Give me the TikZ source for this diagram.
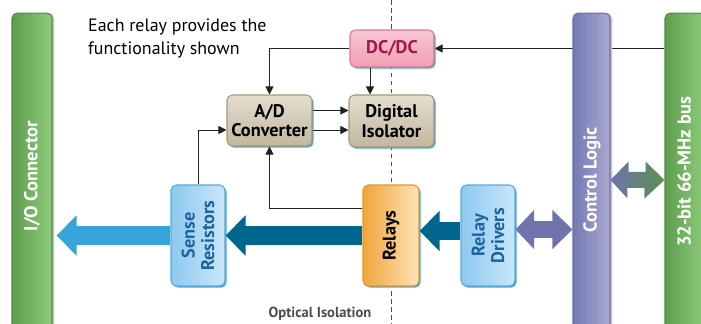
\documentclass[tikz,border=0pt]{standalone}
\usepackage{fontspec}
\setmainfont{PT Sans}
\usetikzlibrary{arrows.meta,shadows,backgrounds}

\definecolor{iogreenL}{HTML}{5E9D4F}
\definecolor{iogreenR}{HTML}{8FCC7C}
\definecolor{iogreenE}{HTML}{4E8A42}
\definecolor{ctlL}{HTML}{7479B4}
\definecolor{ctlR}{HTML}{A8AAD0}
\definecolor{ctlE}{HTML}{6A6FA8}
\definecolor{tantop}{HTML}{E4DECF}
\definecolor{tanbot}{HTML}{C2B79E}
\definecolor{tanedge}{HTML}{A69878}
\definecolor{pinktop}{HTML}{F8C6D2}
\definecolor{pinkbot}{HTML}{EF9EB2}
\definecolor{pinkedge}{HTML}{D77B96}
\definecolor{dcred}{HTML}{A3164B}
\definecolor{skyL}{HTML}{8DC8EF}
\definecolor{skyR}{HTML}{CAE7F9}
\definecolor{skyedge}{HTML}{5AA8DC}
\definecolor{skytext}{HTML}{1D62A0}
\definecolor{orangeL}{HTML}{F0A53A}
\definecolor{orangeR}{HTML}{FDE3B8}
\definecolor{orangeedge}{HTML}{E5962C}
\definecolor{shadowblue}{HTML}{4FA6D8}
\definecolor{arrlight}{HTML}{36A4DA}
\definecolor{arrteal}{HTML}{00668E}
\definecolor{arrpurple}{HTML}{6F74AE}
\definecolor{arrgreen}{HTML}{5E8F50}
\definecolor{linegray}{HTML}{222222}
\definecolor{optgray}{HTML}{4D4D4D}

\begin{document}
\begin{tikzpicture}[x=0.02cm, y=-0.02cm,
    conn/.style={draw=linegray, line width=0.55pt,
      -{Triangle[length=4.6pt,width=4.6pt]}},
    fat/.style={line width=0.38cm,
      -{Triangle[length=0.4cm,width=0.78cm]}},
    blueshadow/.style={drop shadow={fill=shadowblue, opacity=1,
      shadow xshift=0.9pt, shadow yshift=-0.9pt}},
    barshadow/.style={drop shadow={fill=black!22, opacity=1,
      shadow xshift=1.3pt, shadow yshift=0pt}},
    bar/.style={rectangle, rounded corners=3pt, line width=0.6pt,
      minimum height=6.6cm, barshadow},
    box/.style={rectangle, rounded corners=3pt, line width=0.6pt, blueshadow},
    boxtext/.style={font=\fontsize{10.4}{11.2}\selectfont\bfseries, align=center},
    bartext/.style={font=\fontsize{10.6}{12}\selectfont\bfseries,
      text=white, rotate=90}]

  \useasboundingbox (0,0) rectangle (701,324);

  % bus bars
  \node[bar, draw=iogreenE, left color=iogreenL, right color=iogreenR,
        minimum width=0.8cm] (io) at (32,178) {};
  \node[bartext] (ioL) at (32,176) {I/O Connector};

  \node[bar, draw=iogreenE, left color=iogreenL, right color=iogreenR,
        minimum width=0.8cm] (bus) at (685,178) {};
  \node[bartext] (busL) at (684,172) {32-bit 66-MHz bus};

  \node[bar, draw=ctlE, left color=ctlL, right color=ctlR,
        minimum width=0.74cm] (ctl) at (591.5,178) {};
  \node[bartext] (ctlL) at (592,180) {Control Logic};

  % relay blocks
  \node[box, draw=pinkedge, top color=pinktop, bottom color=pinkbot,
        minimum width=1.68cm, minimum height=0.74cm] (dcdc) at (392,48.5) {};
  \node[boxtext, text=dcred] (dcdcL) at (dcdc.center) {DC/DC};

  \node[box, draw=tanedge, top color=tantop, bottom color=tanbot,
        minimum width=1.7cm, minimum height=1.02cm] (adc) at (269.5,120.5) {};
  \node[boxtext] (adcL) at (adc.center) {A/D\\Converter};

  \node[box, draw=tanedge, top color=tantop, bottom color=tanbot,
        minimum width=1.7cm, minimum height=1.04cm] (dig) at (391.5,121) {};
  \node[boxtext] (digL) at (dig.center) {Digital\\Isolator};

  \node[box, draw=skyedge, left color=skyL, right color=skyR,
        minimum width=1.08cm, minimum height=2.02cm] (sense) at (198,235.5) {};
  \node[boxtext, text=skytext, rotate=90] (senseL) at (sense.center) {Sense\\Resistors};

  \node[box, draw=orangeedge, left color=orangeL, right color=orangeR,
        minimum width=1.12cm, minimum height=2.02cm] (relays) at (391,235.5) {};
  \node[boxtext, rotate=90] (relaysL) at (relays.center) {Relays};

  \node[box, draw=skyedge, left color=skyL, right color=skyR,
        minimum width=1.08cm, minimum height=2.02cm] (drv) at (488,235.5) {};
  \node[boxtext, text=skytext, rotate=90] (drvL) at (drv.center) {Relay\\Drivers};

  % texts
  \node[anchor=north west, align=left, font=\fontsize{10.2}{12.8}\selectfont]
        (note) at (82,13) {Each relay provides the\\functionality shown};
  \node[font=\fontsize{8.3}{9}\selectfont\bfseries, text=optgray]
        (optL) at (320,314) {Optical Isolation};

  \coordinate (isotop) at (391,0);
  \coordinate (isobot) at (391,324);

  \begin{scope}[on background layer]
    \draw[optgray, line width=0.5pt, dash pattern=on 2.6pt off 2pt]
      (isotop) -- (isobot);
    \draw[conn] (bus.west |- dcdc.east) -- (dcdc.east);
  \end{scope}

  % signal lines
  \draw[conn] ([xshift=-0.44cm]dcdc.south) -- ([xshift=-0.44cm]dcdc.south |- dig.north);
  \draw[conn] (dcdc.west) -| (adc.north);
  \draw[conn] ([yshift=0.2cm]adc.east) -- ([yshift=0.2cm]adc.east -| dig.west);
  \draw[conn] ([yshift=-0.19cm]adc.east) -- ([yshift=-0.19cm]adc.east -| dig.west);
  \draw[conn] (sense.north) |- ([yshift=-0.19cm]adc.west);
  \draw[conn] ([yshift=0.55cm]relays.west) -| (adc.south);

  % power paths
  \draw[fat, arrlight, shorten >=0.08cm] (sense.west) -- (sense.west -| io.east);
  \draw[fat, arrteal] (relays.west) -- (sense.east);
  \draw[fat, arrteal] ([yshift=0.09cm]drv.west) -- ([yshift=0.09cm]drv.west -| relays.east);
  \draw[line width=0.36cm, arrpurple,
        {Triangle[length=0.37cm,width=0.76cm]}-{Triangle[length=0.4cm,width=0.76cm]}]
    ([yshift=0.12cm]drv.east) -- ([yshift=0.12cm]drv.east -| ctl.west);

  \coordinate (ga) at ([yshift=-0.04cm]ctl.east);
  \coordinate (gb) at (ga -| bus.west);
  \shade[left color=arrpurple, right color=arrgreen]
    (ga) -- ++(0.36cm,0.37cm) -- ++(0,-0.21cm) -- ++(0.34cm,0) -- ++(0,0.21cm)
    -- (gb) -- ++(-0.4cm,-0.37cm) -- ++(0,0.21cm) -- ++(-0.34cm,0)
    -- ++(0,-0.21cm) -- cycle;

\end{tikzpicture}
\end{document}
